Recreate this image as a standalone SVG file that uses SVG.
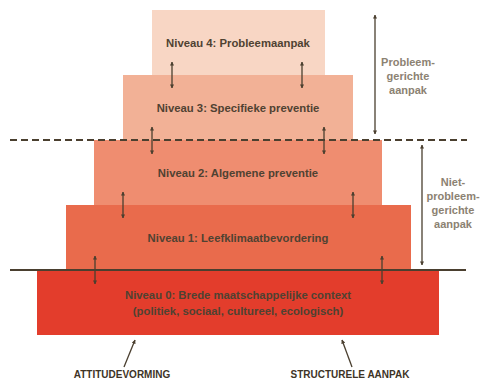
<svg xmlns="http://www.w3.org/2000/svg" width="481" height="380" viewBox="0 0 481 380">
<style>
.lbl{font-family:"Liberation Sans",Arial,sans-serif;font-weight:bold;font-size:11.3px;fill:#4f4232;text-anchor:middle}
.side{font-family:"Liberation Sans",Arial,sans-serif;font-weight:bold;font-size:11px;fill:#8c8272;text-anchor:middle}
.bot{font-family:"Liberation Sans",Arial,sans-serif;font-weight:bold;font-size:10px;fill:#3e3426;text-anchor:middle}
.ar{stroke:#4a3f2f;stroke-width:1.3;fill:none;marker-start:url(#ah);marker-end:url(#ah)}
.ar1{stroke:#4a3f2f;stroke-width:1.3;fill:none;marker-end:url(#ah)}
</style>
<defs>
<marker id="ah" viewBox="0 0 10 10" refX="9" refY="5" markerWidth="4" markerHeight="4" orient="auto-start-reverse" markerUnits="userSpaceOnUse">
<path d="M0,0 L10,5 L0,10 z" fill="#4a3f2f"/>
</marker>
</defs>
<g id="niveau4"><rect x="152" y="10" width="173" height="65" fill="#f8d6c4"/><text class="lbl" x="238" y="47">Niveau 4: Probleemaanpak</text></g>
<g id="niveau3"><rect x="123" y="75" width="230" height="65" fill="#f2b196"/><text class="lbl" x="238" y="112">Niveau 3: Specifieke preventie</text></g>
<g id="niveau2"><rect x="94" y="140" width="288" height="65" fill="#ef8d70"/><text class="lbl" x="238" y="177">Niveau 2: Algemene preventie</text></g>
<g id="niveau1"><rect x="66" y="205" width="345" height="65" fill="#e96b4c"/><text class="lbl" x="238" y="242">Niveau 1: Leefklimaatbevordering</text></g>
<g id="niveau0"><rect x="37" y="270" width="402" height="65" fill="#e33d2c"/><text class="lbl" x="238" y="299">Niveau 0: Brede maatschappelijke context</text><text class="lbl" x="238" y="315">(politiek, sociaal, cultureel, ecologisch)</text></g>
<g id="probleemgericht"><text class="side" x="408" y="66">Probleem-</text><text class="side" x="408" y="80">gerichte</text><text class="side" x="408" y="94">aanpak</text></g>
<g id="nietprobleemgericht"><text class="side" x="453" y="186">Niet-</text><text class="side" x="453" y="200">probleem-</text><text class="side" x="453" y="214">gerichte</text><text class="side" x="453" y="228">aanpak</text></g>
<g id="attitudevorming"><text class="bot" x="122" y="378">ATTITUDEVORMING</text></g>
<g id="structurele"><text class="bot" x="350" y="378">STRUCTURELE AANPAK</text></g>
<g id="connectors">
<line x1="10" y1="140" x2="467" y2="140" stroke="#4a3f2f" stroke-width="2" stroke-dasharray="7,4"/>
<line x1="10" y1="270" x2="466" y2="270" stroke="#4a3f2f" stroke-width="2"/>
<line class="ar" x1="172" y1="62" x2="172" y2="88"/>
<line class="ar" x1="302" y1="62" x2="302" y2="88"/>
<line class="ar" x1="152" y1="127" x2="152" y2="154"/>
<line class="ar" x1="324" y1="127" x2="324" y2="154"/>
<line class="ar" x1="123" y1="192" x2="123" y2="218"/>
<line class="ar" x1="353" y1="192" x2="353" y2="218"/>
<line class="ar" x1="95" y1="256" x2="95" y2="284"/>
<line class="ar" x1="382" y1="256" x2="382" y2="284"/>
<line class="ar" x1="375" y1="15" x2="375" y2="134"/>
<line class="ar" x1="422" y1="145" x2="422" y2="265"/>
<line class="ar1" x1="124" y1="367" x2="135" y2="340"/>
<line class="ar1" x1="352" y1="367" x2="342" y2="340"/>
</g>
</svg>
